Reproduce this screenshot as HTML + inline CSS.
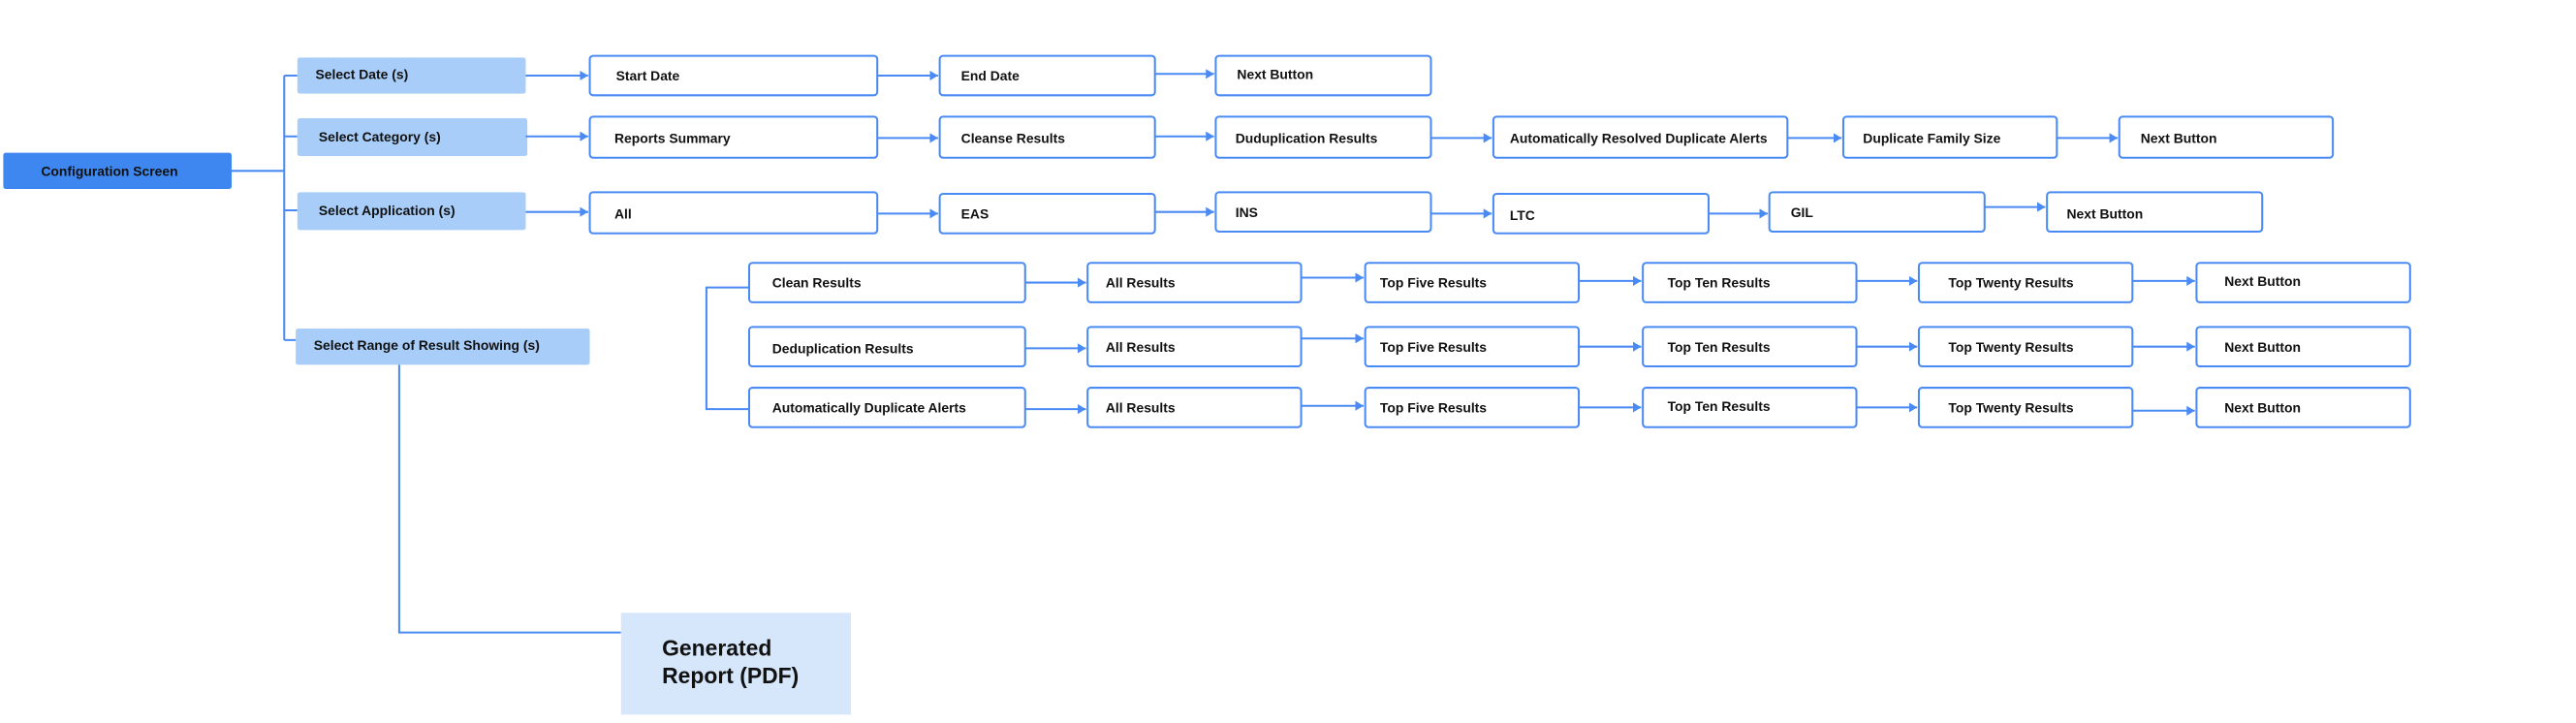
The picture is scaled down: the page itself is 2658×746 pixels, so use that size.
<!DOCTYPE html>
<html><head><meta charset="utf-8"><style>
html,body{margin:0;padding:0;background:#fff;}
svg{display:block;}
text{font-family:"Liberation Sans",Arial,sans-serif;font-weight:bold;font-size:8.2px;fill:#111;}
.b{fill:#fff;stroke:#4a8af4;stroke-width:1.2;}
.c{fill:#a8cdf8;}
.l{stroke:#4a8af4;stroke-width:1.2;fill:none;}
</style></head><body>
<svg width="2658" height="746" viewBox="0 0 1568 440.07" xmlns="http://www.w3.org/2000/svg">
<defs><marker id="a" markerWidth="6" markerHeight="6" refX="5" refY="3" orient="auto" markerUnits="userSpaceOnUse"><path d="M0,0 L5,3 L0,6 z" fill="#4a8af4"/></marker></defs>

<rect x="2" y="93" width="139" height="22" rx="1.5" fill="#3f87f0"/>
<text x="25" y="107">Configuration Screen</text>
<path class="l" d="M141 104 H173 M173 46 V207 M173 46 H181 M173 83 H181 M173 128 H181 M173 207 H180"/>

<rect class="c" x="181" y="35" width="139" height="22" rx="1.5"/><text x="192" y="48">Select Date (s)</text>
<rect class="c" x="181" y="72" width="140" height="23" rx="1.5"/><text x="194" y="86">Select Category (s)</text>
<rect class="c" x="181" y="117" width="139" height="23" rx="1.5"/><text x="194" y="131">Select Application (s)</text>
<rect class="c" x="180" y="200" width="179" height="22" rx="1.5"/><text x="191" y="213">Select Range of Result Showing (s)</text>

<g class="l" marker-end="url(#a)">
<path class="l" marker-end="url(#a)" d="M320 46 H358"/>
<path class="l" marker-end="url(#a)" d="M534 46 H571"/>
<path class="l" marker-end="url(#a)" d="M703 45 H739"/>
<path class="l" marker-end="url(#a)" d="M320 83 H358"/>
<path class="l" marker-end="url(#a)" d="M534 84 H571"/>
<path class="l" marker-end="url(#a)" d="M703 83 H739"/>
<path class="l" marker-end="url(#a)" d="M871 84 H908"/>
<path class="l" marker-end="url(#a)" d="M1088 84 H1121"/>
<path class="l" marker-end="url(#a)" d="M1252 84 H1289"/>
<path class="l" marker-end="url(#a)" d="M320 129 H358"/>
<path class="l" marker-end="url(#a)" d="M534 130 H571"/>
<path class="l" marker-end="url(#a)" d="M703 129 H739"/>
<path class="l" marker-end="url(#a)" d="M871 130 H908"/>
<path class="l" marker-end="url(#a)" d="M1040 130 H1076"/>
<path class="l" marker-end="url(#a)" d="M1208 126 H1245"/>
<path class="l" marker-end="url(#a)" d="M624 172 H661"/>
<path class="l" marker-end="url(#a)" d="M624 212 H661"/>
<path class="l" marker-end="url(#a)" d="M624 249 H661"/>
<path class="l" marker-end="url(#a)" d="M792 169 H830"/>
<path class="l" marker-end="url(#a)" d="M792 206 H830"/>
<path class="l" marker-end="url(#a)" d="M792 247 H830"/>
<path class="l" marker-end="url(#a)" d="M961 171 H999"/>
<path class="l" marker-end="url(#a)" d="M961 211 H999"/>
<path class="l" marker-end="url(#a)" d="M961 248 H999"/>
<path class="l" marker-end="url(#a)" d="M1130 171 H1167"/>
<path class="l" marker-end="url(#a)" d="M1130 211 H1167"/>
<path class="l" marker-end="url(#a)" d="M1130 248 H1167"/>
<path class="l" marker-end="url(#a)" d="M1298 171 H1336"/>
<path class="l" marker-end="url(#a)" d="M1298 211 H1336"/>
<path class="l" marker-end="url(#a)" d="M1298 250 H1336"/>
</g>

<rect class="b" x="359" y="34" width="175" height="24" rx="2"/><text x="375" y="49">Start Date</text>
<rect class="b" x="572" y="34" width="131" height="24" rx="2"/><text x="585" y="49">End Date</text>
<rect class="b" x="740" y="34" width="131" height="24" rx="2"/><text x="753" y="48">Next Button</text>

<rect class="b" x="359" y="71" width="175" height="25" rx="2"/><text x="374" y="87">Reports Summary</text>
<rect class="b" x="572" y="71" width="131" height="25" rx="2"/><text x="585" y="87">Cleanse Results</text>
<rect class="b" x="740" y="71" width="131" height="25" rx="2"/><text x="752" y="87">Duduplication Results</text>
<rect class="b" x="909" y="71" width="179" height="25" rx="2"/><text x="919" y="87">Automatically Resolved Duplicate Alerts</text>
<rect class="b" x="1122" y="71" width="130" height="25" rx="2"/><text x="1134" y="87">Duplicate Family Size</text>
<rect class="b" x="1290" y="71" width="130" height="25" rx="2"/><text x="1303" y="87">Next Button</text>

<rect class="b" x="359" y="117" width="175" height="25" rx="2"/><text x="374" y="133">All</text>
<rect class="b" x="572" y="118" width="131" height="24" rx="2"/><text x="585" y="133">EAS</text>
<rect class="b" x="740" y="117" width="131" height="24" rx="2"/><text x="752" y="132">INS</text>
<rect class="b" x="909" y="118" width="131" height="24" rx="2"/><text x="919" y="134">LTC</text>
<rect class="b" x="1077" y="117" width="131" height="24" rx="2"/><text x="1090" y="132">GIL</text>
<rect class="b" x="1246" y="117" width="131" height="24" rx="2"/><text x="1258" y="133">Next Button</text>

<path class="l" d="M456 175 H430 V249 H456"/>

<rect class="b" x="456" y="160" width="168" height="24" rx="2"/><text x="470" y="175">Clean Results</text>
<rect class="b" x="456" y="199" width="168" height="24" rx="2"/><text x="470" y="215">Deduplication Results</text>
<rect class="b" x="456" y="236" width="168" height="24" rx="2"/><text x="470" y="251">Automatically Duplicate Alerts</text>
<rect class="b" x="662" y="160" width="130" height="24" rx="2"/><text x="673" y="175">All Results</text>
<rect class="b" x="662" y="199" width="130" height="24" rx="2"/><text x="673" y="214">All Results</text>
<rect class="b" x="662" y="236" width="130" height="24" rx="2"/><text x="673" y="251">All Results</text>
<rect class="b" x="831" y="160" width="130" height="24" rx="2"/><text x="840" y="175">Top Five Results</text>
<rect class="b" x="831" y="199" width="130" height="24" rx="2"/><text x="840" y="214">Top Five Results</text>
<rect class="b" x="831" y="236" width="130" height="24" rx="2"/><text x="840" y="251">Top Five Results</text>
<rect class="b" x="1000" y="160" width="130" height="24" rx="2"/><text x="1015" y="175">Top Ten Results</text>
<rect class="b" x="1000" y="199" width="130" height="24" rx="2"/><text x="1015" y="214">Top Ten Results</text>
<rect class="b" x="1000" y="236" width="130" height="24" rx="2"/><text x="1015" y="250">Top Ten Results</text>
<rect class="b" x="1168" y="160" width="130" height="24" rx="2"/><text x="1186" y="175">Top Twenty Results</text>
<rect class="b" x="1168" y="199" width="130" height="24" rx="2"/><text x="1186" y="214">Top Twenty Results</text>
<rect class="b" x="1168" y="236" width="130" height="24" rx="2"/><text x="1186" y="251">Top Twenty Results</text>
<rect class="b" x="1337" y="160" width="130" height="24" rx="2"/><text x="1354" y="174">Next Button</text>
<rect class="b" x="1337" y="199" width="130" height="24" rx="2"/><text x="1354" y="214">Next Button</text>
<rect class="b" x="1337" y="236" width="130" height="24" rx="2"/><text x="1354" y="251">Next Button</text>

<path class="l" d="M243 222 V385 H378"/>
<rect x="378" y="373" width="140" height="62" fill="#d6e7fb"/>
<text x="403" y="399" style="font-size:13.5px;font-weight:bold;">Generated</text>
<text x="403" y="416" style="font-size:13.5px;font-weight:bold;">Report (PDF)</text>
</svg>
</body></html>
